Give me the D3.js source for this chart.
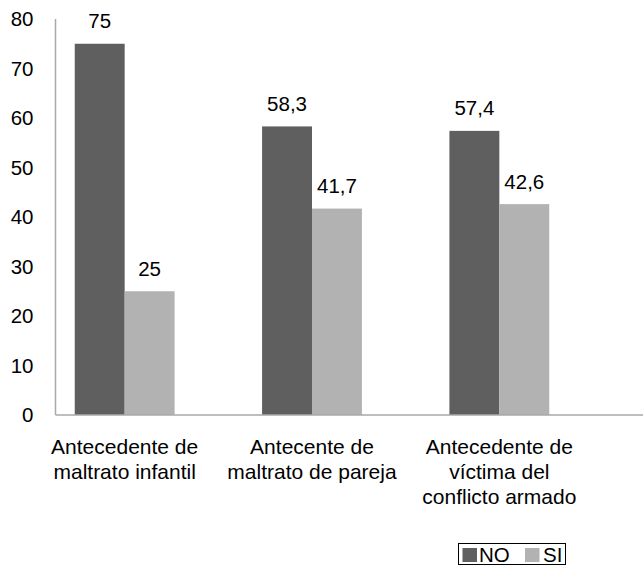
<!DOCTYPE html>
<html>
<head>
<meta charset="utf-8">
<script src="https://cdn.jsdelivr.net/npm/d3@7/dist/d3.min.js"></script>
<style>
  html, body { margin: 0; padding: 0; background: #fff; }
  svg { display: block; font-family: "Liberation Sans", Arial, Helvetica, sans-serif; }
</style>
</head>
<body>
<svg id="chart" width="643" height="568"></svg>
<script>
// Categories (each label split into display lines)
const categories = [
  ["Antecedente de", "maltrato infantil"],
  ["Antecente de", "maltrato de pareja"],
  ["Antecedente de", "víctima del", "conflicto armado"]
];
const seriesNames = ["NO", "SI"];
const valuesNO = [75, 58.3, 57.4];
const valuesSI = [25, 41.7, 42.6];
const yTicks = [0, 10, 20, 30, 40, 50, 60, 70, 80];
const colors = { NO: "#5f5f5f", SI: "#b2b2b2" };

const svg = d3.select("#chart");
const axisColor = "#a9a9a9";
const fontSize = 20.5;
const plotLeft = 55.5, plotRight = 643, plotTop = 19, plotBottom = 415;

const catKeys = categories.map(c => c.join(" "));
const x = d3.scaleBand().domain(catKeys).range([31, 593]).paddingInner(0).paddingOuter(0);
const barW = x.bandwidth() * 0.2665;
const y = d3.scaleLinear().domain([0, 80]).range([plotBottom, plotTop]);

const fmt = v => String(v).replace(".", ",");

// Y tick labels
svg.append("g").selectAll("text").data(yTicks).join("text")
  .attr("x", 33.5).attr("y", d => y(d)).attr("dy", "0.35em")
  .attr("text-anchor", "end").attr("font-size", fontSize).attr("fill", "#000")
  .text(d => d);

// Bars with value labels
const series = [
  { name: "NO", values: valuesNO, offset: -1 },
  { name: "SI", values: valuesSI, offset: 0 }
];
const bars = svg.append("g");
series.forEach(s => {
  bars.append("g").selectAll("rect").data(s.values).join("rect")
    .attr("x", (d, i) => x(catKeys[i]) + x.bandwidth() / 2 + s.offset * barW)
    .attr("y", d => y(d))
    .attr("width", barW)
    .attr("height", d => y(0) - y(d))
    .attr("fill", colors[s.name]);
  bars.append("g").selectAll("text").data(s.values).join("text")
    .attr("x", (d, i) => x(catKeys[i]) + x.bandwidth() / 2 + s.offset * barW + barW / 2)
    .attr("y", d => y(d) - 15.5)
    .attr("text-anchor", "middle").attr("font-size", fontSize).attr("fill", "#000")
    .text(d => fmt(d));
});

// Axis lines
svg.append("line").attr("x1", plotLeft).attr("x2", plotLeft).attr("y1", plotTop).attr("y2", plotBottom)
  .attr("stroke", axisColor).attr("stroke-width", 1.5);
svg.append("line").attr("x1", plotLeft).attr("x2", plotRight).attr("y1", plotBottom).attr("y2", plotBottom)
  .attr("stroke", axisColor).attr("stroke-width", 1.5);

// Category labels
const catG = svg.append("g");
categories.forEach((lines, i) => {
  const cx = x(catKeys[i]) + x.bandwidth() / 2;
  const t = catG.append("text")
    .attr("x", cx).attr("y", 454)
    .attr("text-anchor", "middle").attr("font-size", 21).attr("fill", "#000");
  lines.forEach((ln, j) => {
    t.append("tspan").attr("x", cx).attr("dy", j === 0 ? 0 : 25).text(ln);
  });
});

// Legend
const lg = svg.append("g");
lg.append("rect").attr("x", 458.5).attr("y", 543.5).attr("width", 107).attr("height", 21)
  .attr("fill", "#fff").attr("stroke", "#000").attr("stroke-width", 1);
const legendItems = [
  { name: seriesNames[0], sx: 462.5, tx: 479 },
  { name: seriesNames[1], sx: 525, tx: 543 }
];
legendItems.forEach(it => {
  lg.append("rect").attr("x", it.sx).attr("y", 548).attr("width", 14.5).attr("height", 14)
    .attr("fill", colors[it.name]);
  lg.append("text").attr("x", it.tx).attr("y", 561.5).attr("font-size", fontSize).attr("fill", "#000")
    .text(it.name);
});
</script>
</body>
</html>
